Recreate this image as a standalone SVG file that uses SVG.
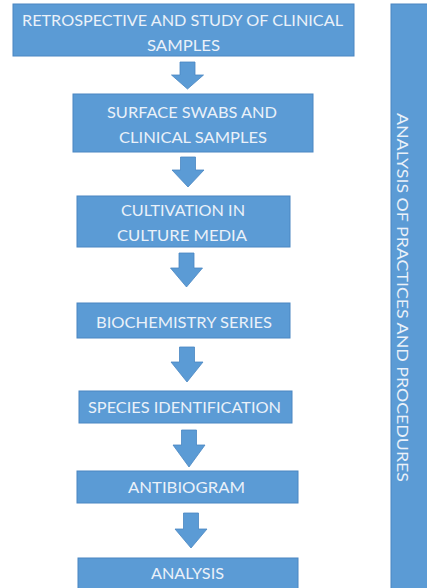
<svg xmlns="http://www.w3.org/2000/svg" width="427" height="588" viewBox="0 0 427 588">
<style>
.box{fill:#5B9BD5;stroke:#4A86C2;stroke-width:1}
.arr{fill:#5B9BD5;stroke:#4A86C2;stroke-width:0.8}
.t{font-family:Lato,"Open Sans","Liberation Sans",sans-serif;font-size:16px;fill:#EAF1F9;text-anchor:middle}
</style>
<rect width="427" height="588" fill="#ffffff"/>
<g id="connectors">
<path class="arr" d="M180 62 H195 V75 H203.5 L187.5 89 L171.5 75 H180 Z"/>
<path class="arr" d="M180.5 157 H195.5 V170 H204 L188 187 L172 170 H180.5 Z"/>
<path class="arr" d="M179 253 H194 V268 H202.5 L186.5 287 L170.5 268 H179 Z"/>
<path class="arr" d="M179.5 347 H194.5 V362 H203 L187 382 L171 362 H179.5 Z"/>
<path class="arr" d="M181.5 430 H196.5 V445 H205 L189 467 L173 445 H181.5 Z"/>
<path class="arr" d="M183.5 513 H198.5 V529 H207 L191 548 L175 529 H183.5 Z"/>
</g>
<g id="n1">
<rect class="box" x="13" y="4" width="341" height="52"/>
<text class="t" x="182.5" y="26" textLength="321" lengthAdjust="spacingAndGlyphs">RETROSPECTIVE AND STUDY OF CLINICAL</text>
<text class="t" x="183.5" y="51" textLength="73" lengthAdjust="spacingAndGlyphs">SAMPLES</text>
</g>
<g id="n2">
<rect class="box" x="73" y="94" width="240" height="58"/>
<text class="t" x="192" y="118" textLength="170" lengthAdjust="spacingAndGlyphs">SURFACE SWABS AND</text>
<text class="t" x="193" y="143" textLength="148" lengthAdjust="spacingAndGlyphs">CLINICAL SAMPLES</text>
</g>
<g id="n3">
<rect class="box" x="77" y="196" width="213" height="51"/>
<text class="t" x="183" y="216" textLength="124" lengthAdjust="spacingAndGlyphs">CULTIVATION IN</text>
<text class="t" x="182" y="241" textLength="130" lengthAdjust="spacingAndGlyphs">CULTURE MEDIA</text>
</g>
<g id="n4">
<rect class="box" x="77" y="303" width="213" height="35"/>
<text class="t" x="184" y="328" textLength="176" lengthAdjust="spacingAndGlyphs">BIOCHEMISTRY SERIES</text>
</g>
<g id="n5">
<rect class="box" x="79" y="391" width="213" height="32"/>
<text class="t" x="184.5" y="413" textLength="193" lengthAdjust="spacingAndGlyphs">SPECIES IDENTIFICATION</text>
</g>
<g id="n6">
<rect class="box" x="77" y="471" width="221" height="32"/>
<text class="t" x="186.5" y="493" textLength="117" lengthAdjust="spacingAndGlyphs">ANTIBIOGRAM</text>
</g>
<g id="n7">
<rect class="box" x="78" y="558" width="220" height="34"/>
<text class="t" x="187.5" y="579" textLength="73" lengthAdjust="spacingAndGlyphs">ANALYSIS</text>
</g>
<g id="side">
<rect class="box" x="391" y="4" width="40" height="590"/>
<text class="t" style="font-size:16px" transform="translate(397,297.5) rotate(90)" x="0" y="0" textLength="369" lengthAdjust="spacingAndGlyphs">ANALYSIS OF PRACTICES AND PROCEDURES</text>
</g>
</svg>
